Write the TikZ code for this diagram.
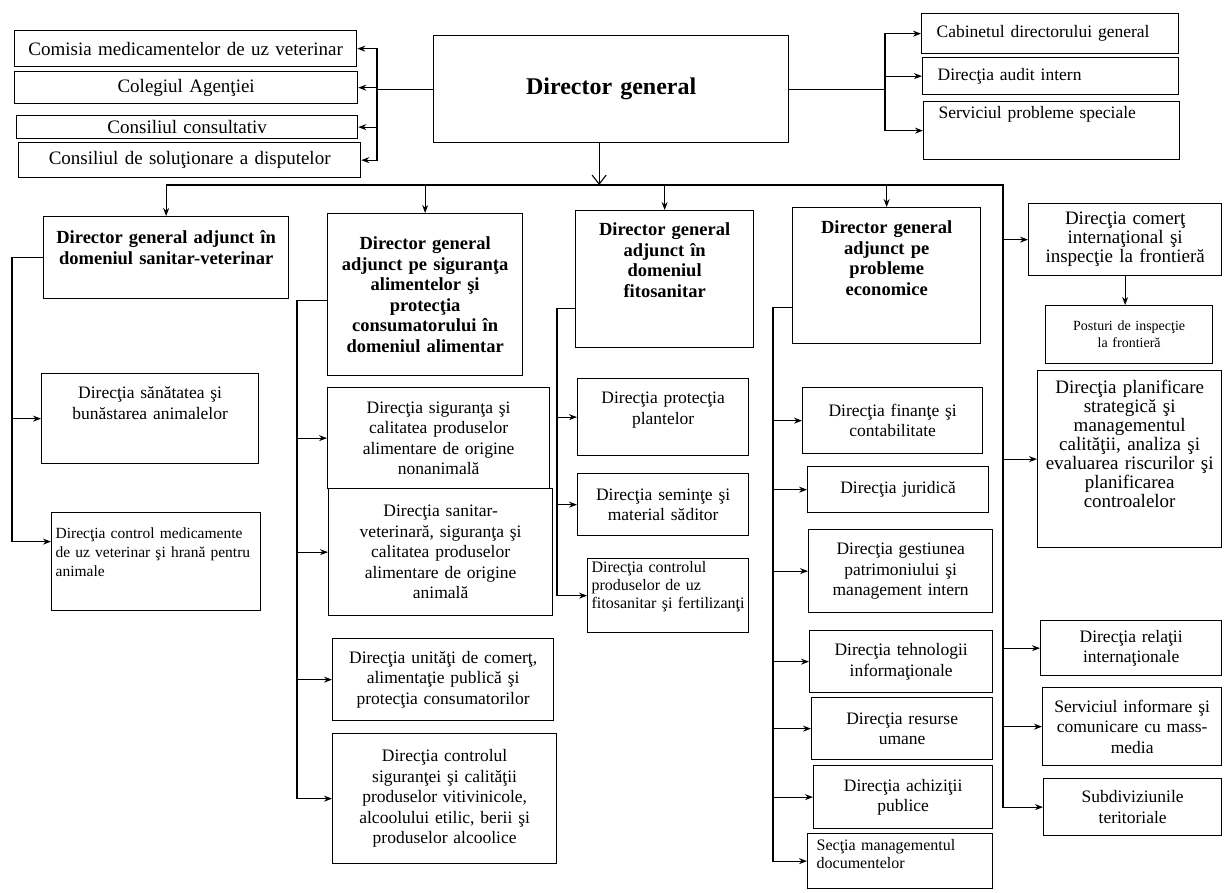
\documentclass[tikz,border=0pt]{standalone}
\usepackage{fontspec}
\setmainfont{Liberation Serif}
\usetikzlibrary{arrows.meta}

\newcommand{\fnorm}{\fontsize{17.5}{20.5}\selectfont}
\newcommand{\fsmall}{\fontsize{16}{18}\selectfont}
\newcommand{\ftiny}{\fontsize{14}{17}\selectfont}
\newcommand{\ftop}{\fontsize{19}{21}\selectfont}
\newcommand{\fbig}{\fontsize{19}{19}\selectfont}
\newcommand{\fbold}{\fontsize{18.5}{20.5}\selectfont\bfseries}
\newcommand{\fhead}{\fontsize{24}{28}\selectfont\bfseries}

\begin{document}
\begin{tikzpicture}[x=1pt,y=-1pt,line width=1.1pt,>={Stealth[length=8pt,width=6pt]}]
    \tikzstyle{unit}=[draw, line width=1.3pt, rectangle, anchor=north west, inner sep=0pt, align=center, font=\fnorm]
    \tikzstyle{unitbold}=[style=unit, font=\fbold]
    \tikzstyle{unitleft}=[style=unit, align=left, inner xsep=6pt, font=\fsmall]
    \tikzstyle{open}=[-{Straight Barb[length=9pt,width=14pt]}]

    \useasboundingbox (0,0) rectangle (1224,893);

    % top level
    \node[unit, font=\fhead, text width=355pt, minimum height=107pt] (dg) at (433,35) {Director general};

    \node[unit, font=\ftop, text width=342pt, minimum height=36pt] (comisia) at (14,30) {Comisia medicamentelor de uz veterinar};
    \node[unit, font=\ftop, text width=343pt, minimum height=32pt] (colegiul) at (14,71) {Colegiul Agenţiei};
    \node[unit, font=\ftop, text width=341pt, minimum height=23pt] (consultativ) at (16,115) {Consiliul consultativ};
    \node[unit, font=\ftop, text width=342pt, minimum height=35pt] (disputelor) at (18,142) {Consiliul de soluţionare a disputelor};

    \node[unitleft, font=\fnorm, inner xsep=15pt, text width=227pt, minimum height=40pt] (cabinet) at (921,13) {Cabinetul directorului general};
    \node[unitleft, font=\fnorm, inner xsep=15pt, text width=226pt, minimum height=37pt] (audit) at (922,57) {Direcţia audit intern};
    \node[unitleft, font=\fnorm, inner xsep=15pt, text width=226pt, text height=17pt, text depth=41pt] (speciale) at (923,101) {Serviciul probleme speciale};

    % adjuncti
    \node[unitbold, text width=245pt, text height=27pt, text depth=55pt] (sanvet) at (43,216) {Director general adjunct în\\domeniul sanitar-veterinar};
    \node[unitbold, text width=195pt, minimum height=162pt] (alim) at (327,213) {Director general\\adjunct pe siguranţa\\alimentelor şi\\protecţia\\consumatorului în\\domeniul alimentar};
    \node[unitbold, text width=178pt, text height=25pt, text depth=112pt] (fito) at (575,210) {Director general\\adjunct în\\domeniul\\fitosanitar};
    \node[unitbold, text width=188pt, text height=26pt, text depth=110pt] (econ) at (792,207) {Director general\\adjunct pe\\probleme\\economice};

    % sanitar-veterinar
    \node[unit, text width=217pt, text height=25pt, text depth=65pt] (animale) at (41,373) {Direcţia sănătatea şi\\bunăstarea animalelor};
    \node[unitleft, font=\fontsize{15.5}{19}\selectfont, inner xsep=4pt, text width=201pt, text height=26pt, text depth=72pt] (medicam) at (51,512) {Direcţia control medicamente\\de uz veterinar şi hrană pentru\\animale};

    % alimentar
    \node[unit, text width=222pt, minimum height=101pt] (nonanim) at (327,387) {Direcţia siguranţa şi\\calitatea produselor\\alimentare de origine\\nonanimală};
    \node[unit, text width=224pt, minimum height=127pt] (anim) at (328,488) {Direcţia sanitar-\\veterinară, siguranţa şi\\calitatea produselor\\alimentare de origine\\animală};
    \node[unit, text width=221pt, minimum height=82pt] (comert) at (332,638) {Direcţia unităţi de comerţ,\\alimentaţie publică şi\\protecţia consumatorilor};
    \node[unit, text width=224pt, minimum height=130pt] (vitivin) at (332,733) {Direcţia controlul\\siguranţei şi calităţii\\produselor vitivinicole,\\alcoolului etilic, berii şi\\produselor alcoolice};

    % fitosanitar
    \node[unit, text width=171pt, text height=25pt, text depth=52pt] (plante) at (577,378) {Direcţia protecţia\\plantelor};
    \node[unit, text width=171pt, minimum height=62pt] (seminte) at (577,473) {Direcţia seminţe şi\\material săditor};
    \node[unitleft, inner xsep=4pt, text width=153pt, text height=14pt, text depth=60pt] (fertil) at (587,558) {Direcţia controlul\\produselor de uz\\fitosanitar şi fertilizanţi};

    % economice
    \node[unit, text width=180pt, minimum height=66pt] (finante) at (802,387) {Direcţia finanţe şi\\contabilitate};
    \node[unit, text width=181pt, minimum height=46pt] (juridic) at (807,466) {Direcţia juridică};
    \node[unit, text width=184pt, minimum height=83pt] (patrim) at (808,529) {Direcţia gestiunea\\patrimoniului şi\\management intern};
    \node[unit, text width=183pt, minimum height=62pt] (tehno) at (809,630) {Direcţia tehnologii\\informaţionale};
    \node[unit, text width=181pt, minimum height=62pt] (resurse) at (811,697) {Direcţia resurse\\umane};
    \node[unit, text width=179pt, minimum height=63pt] (achiz) at (813,765) {Direcţia achiziţii\\publice};
    \node[unitleft, inner xsep=9pt, text width=167pt, text height=17pt, text depth=38pt] (docum) at (807,833) {Secţia managementul\\documentelor};

    % subordonate direct
    \node[unit, font=\fbig, text width=193pt, minimum height=72pt] (frontiera) at (1028,203) {Direcţia comerţ\\internaţional şi\\inspecţie la frontieră};
    \node[unit, font=\ftiny, text width=167pt, minimum height=58pt] (posturi) at (1045,305) {Posturi de inspecţie\\la frontieră};
    \node[unit, font=\fbig, text width=184pt, text height=23pt, text depth=154pt] (planif) at (1037,370) {Direcţia planificare\\strategică şi\\managementul\\calităţii, analiza şi\\evaluarea riscurilor şi\\planificarea\\controalelor};
    \node[unit, text width=181pt, minimum height=55pt] (relatii) at (1040,620) {Direcţia relaţii\\internaţionale};
    \node[unit, text width=179pt, minimum height=78pt] (media) at (1042,687) {Serviciul informare şi\\comunicare cu mass-\\media};
    \node[unit, text width=178pt, minimum height=57pt] (teritor) at (1043,778) {Subdiviziunile\\teritoriale};

    \coordinate (bus) at (0,185);
    \coordinate (lb) at (377,0);
    \coordinate (rb) at (885,0);
    \coordinate (s1) at (12,0);
    \coordinate (s2) at (297,0);
    \coordinate (s3) at (557,0);
    \coordinate (s4) at (773,0);
    \coordinate (rs) at (1003,0);

    % director general
    \draw (dg.west) -- (dg.west -| lb);
    \draw[->] (dg.west -| lb) |- (comisia.east);
    \draw[->] (dg.west -| lb) |- (disputelor.east);
    \draw[->] (lb |- colegiul.east) -- (colegiul.east);
    \draw[->] (lb |- consultativ.east) -- (consultativ.east);

    \draw (dg.east) -- (dg.east -| rb);
    \draw[->] (dg.east -| rb) |- (cabinet.west);
    \draw[->] (dg.east -| rb) |- (speciale.west);
    \draw[->] (rb |- audit.west) -- (audit.west);

    \draw[open] ([xshift=-12pt]dg.south) -- ([xshift=-12pt]dg.south |- bus);
    \draw[->] (sanvet.north |- bus) -- (bus -| rs) |- (teritor.west);
    \foreach \n in {sanvet,alim,fito,econ}
        \draw[->] (\n.north |- bus) -- (\n.north);
    \foreach \n in {frontiera,planif,relatii,media}
        \draw[->] (rs |- \n.west) -- (\n.west);
    \draw[->] (frontiera.south) -- (frontiera.south |- posturi.north);

    % adjuncti
    \draw[->] (sanvet.west) -- (sanvet.west -| s1) |- ([yshift=20pt]medicam.west);
    \draw[->] (s1 |- animale.west) -- (animale.west);

    \coordinate (a2) at ([yshift=-6pt]alim.west);
    \draw[->] (a2) -- (a2 -| s2) |- (vitivin.west);
    \foreach \n in {nonanim,anim,comert}
        \draw[->] (s2 |- \n.west) -- (\n.west);

    \coordinate (a3) at ([yshift=-29pt]fito.west);
    \draw[->] (a3) -- (a3 -| s3) |- (fertil.west);
    \foreach \n in {plante,seminte}
        \draw[->] (s3 |- \n.west) -- (\n.west);

    \coordinate (a4) at ([yshift=-32pt]econ.west);
    \draw[->] (a4) -- (a4 -| s4) |- (docum.west);
    \foreach \n in {finante,juridic,patrim,tehno,resurse,achiz}
        \draw[->] (s4 |- \n.west) -- (\n.west);
\end{tikzpicture}
\end{document}
